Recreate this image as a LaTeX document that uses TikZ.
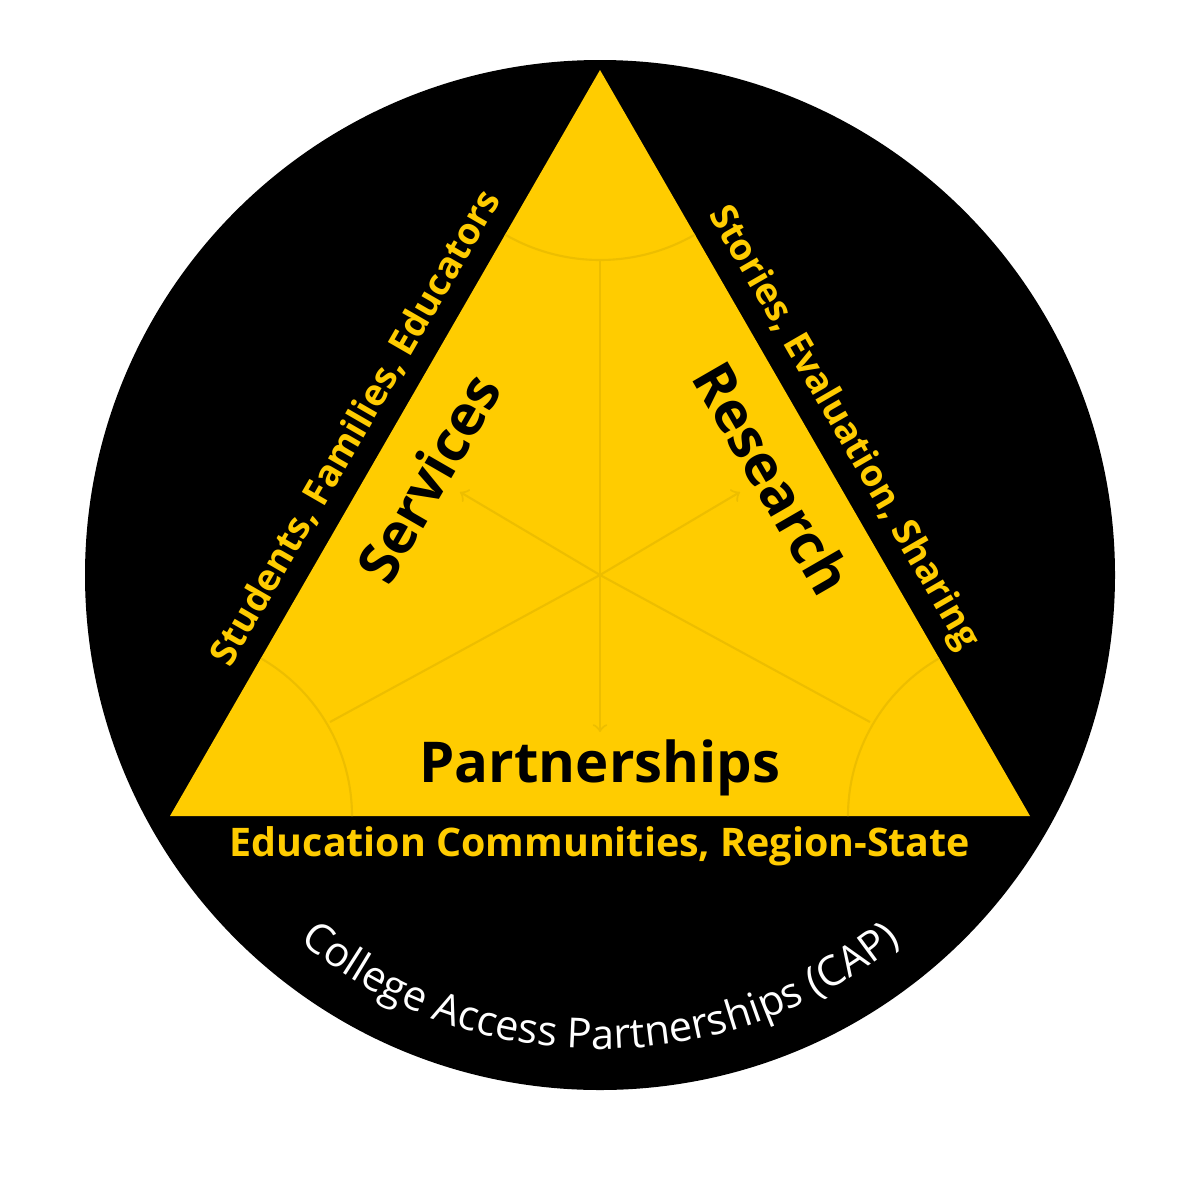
\documentclass[tikz,border=0pt]{standalone}
\usepackage{fontspec}
\setmainfont{Open Sans}
\usetikzlibrary{decorations.text}
\usetikzlibrary{arrows}
\definecolor{capgold}{HTML}{FFCC00}
\definecolor{capline}{HTML}{EDBE00}

\begin{document}
\begin{tikzpicture}[x=0.01cm,y=-0.01cm,
    side/.style={text=capgold,font=\bfseries\fontsize{10.5}{12}\selectfont},
    corner/.style={text=black,font=\bfseries\fontsize{16}{18}\selectfont},
    faint/.style={capline,line width=0.6pt}]
    \path[use as bounding box] (0,0) rectangle (1200,1200);

    \fill[black] (600,575) circle (515);
    \fill[capgold] (600,70) -- (170,816) -- (1030,816) -- cycle;

    % faint inner lines
    \coordinate (mid) at (600,575);
    \coordinate (top) at (600,260);
    \coordinate (bl) at (330,722);
    \coordinate (br) at (870,722);
    \coordinate (aD) at (600,732);
    \coordinate (aL) at (460,492);
    \coordinate (aR) at (740,492);
    \begin{scope}[faint]
      \draw (mid) -- (top);
      \draw (mid) -- (bl);
      \draw (mid) -- (br);
      \draw[->] (mid) -- (aD);
      \draw[->] (mid) -- (aL);
      \draw[->] (mid) -- (aR);
      \draw (600,70) ++(120:190) arc[start angle=120,end angle=60,radius=190];
      \draw (352,816) arc[start angle=0,end angle=-60,radius=182];
      \draw (848,816) arc[start angle=180,end angle=240,radius=182];
    \end{scope}

    \node[side,rotate=60] (who) at (356,428) {Students, Families, Educators};
    \node[corner,rotate=60] (serv) at (428,478) {Services};
    \node[side,rotate=-60] (how) at (843,428) {Stories, Evaluation, Sharing};
    \node[corner,rotate=-60] (res) at (773,478) {Research};
    \node[corner] (part) at (600,768) {Partnerships};
    \node[side,font=\bfseries\fontsize{11.2}{13}\selectfont] (where) at (600,846) {Education Communities, Region-State};

    \path[decorate,decoration={text along path,text align=center,
        text={|\fontsize{11.8}{14}\selectfont\color{white}|College Access Partnerships (CAP)}}]
      (600,575) ++(131:474) arc[start angle=131,end angle=49,radius=474];
\end{tikzpicture}
\end{document}
